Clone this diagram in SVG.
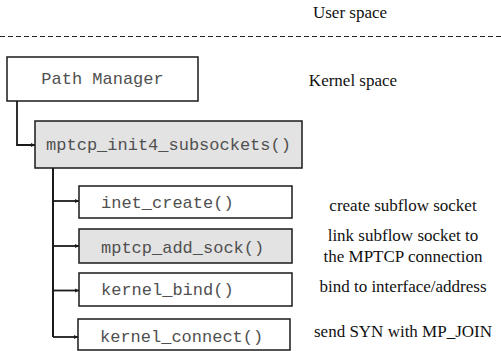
<svg xmlns="http://www.w3.org/2000/svg" width="501" height="351" viewBox="0 0 501 351">
  <style>
    .box { fill: #ffffff; stroke: #1a1a1a; stroke-width: 1.5; }
    .box.hl { fill: #e3e3e3; }
    .code { font-family: "Liberation Mono", "Courier New", monospace; font-size: 17px; fill: #505050; }
    .note { font-family: "Liberation Serif", "Times New Roman", serif; font-size: 17px; fill: #111111; }
    .conn { fill: none; stroke: #1a1a1a; stroke-width: 1.8; marker-end: url(#arrow); }
    .trunk { fill: none; stroke: #1a1a1a; stroke-width: 2; }
  </style>
  <defs>
    <marker id="arrow" viewBox="0 0 10 10" refX="10" refY="5" markerWidth="4.5" markerHeight="4.5" markerUnits="userSpaceOnUse" orient="auto">
      <path d="M0,0 L10,5 L0,10 z" fill="#1a1a1a"/>
    </marker>
  </defs>

  <rect width="501" height="351" fill="#ffffff"/>

  <!-- user / kernel boundary -->
  <g id="boundary">
    <line x1="0" y1="36.5" x2="501" y2="36.5" stroke="#222222" stroke-width="1.2" stroke-dasharray="5,3"/>
    <text class="note" x="350" y="18" text-anchor="middle">User space</text>
    <text class="note" x="353" y="86" text-anchor="middle">Kernel space</text>
  </g>

  <!-- call connectors -->
  <g id="connectors">
    <path class="conn" d="M17,101 V145 H35"/>
    <line class="trunk" x1="53" y1="168" x2="53" y2="337"/>
    <path class="conn" d="M53,201 H79"/>
    <path class="conn" d="M53,246 H79"/>
    <path class="conn" d="M53,290.5 H79"/>
    <path class="conn" d="M53,337 H78"/>
  </g>

  <g id="path-manager">
    <rect class="box" x="7" y="57" width="191" height="44"/>
    <text class="code" x="102.5" y="84" text-anchor="middle">Path Manager</text>
  </g>

  <g id="mptcp-init4-subsockets">
    <rect class="box hl" x="35" y="121" width="267" height="47"/>
    <text class="code" x="168.5" y="150" text-anchor="middle">mptcp_init4_subsockets()</text>
  </g>

  <g id="inet-create">
    <rect class="box" x="79" y="186" width="213" height="32"/>
    <text class="code" x="101" y="208">inet_create()</text>
    <text class="note" x="403" y="211" text-anchor="middle">create subflow socket</text>
  </g>

  <g id="mptcp-add-sock">
    <rect class="box hl" x="79" y="229" width="213" height="34"/>
    <text class="code" x="101" y="253">mptcp_add_sock()</text>
    <text class="note" x="403" y="241" text-anchor="middle">link subflow socket to</text>
    <text class="note" x="403" y="262" text-anchor="middle">the MPTCP connection</text>
  </g>

  <g id="kernel-bind">
    <rect class="box" x="79" y="273" width="213" height="33"/>
    <text class="code" x="101" y="295">kernel_bind()</text>
    <text class="note" x="403" y="292" text-anchor="middle">bind to interface/address</text>
  </g>

  <g id="kernel-connect">
    <rect class="box" x="78" y="319" width="212" height="31"/>
    <text class="code" x="100" y="342">kernel_connect()</text>
    <text class="note" x="403" y="337" text-anchor="middle">send SYN with MP_JOIN</text>
  </g>
</svg>
